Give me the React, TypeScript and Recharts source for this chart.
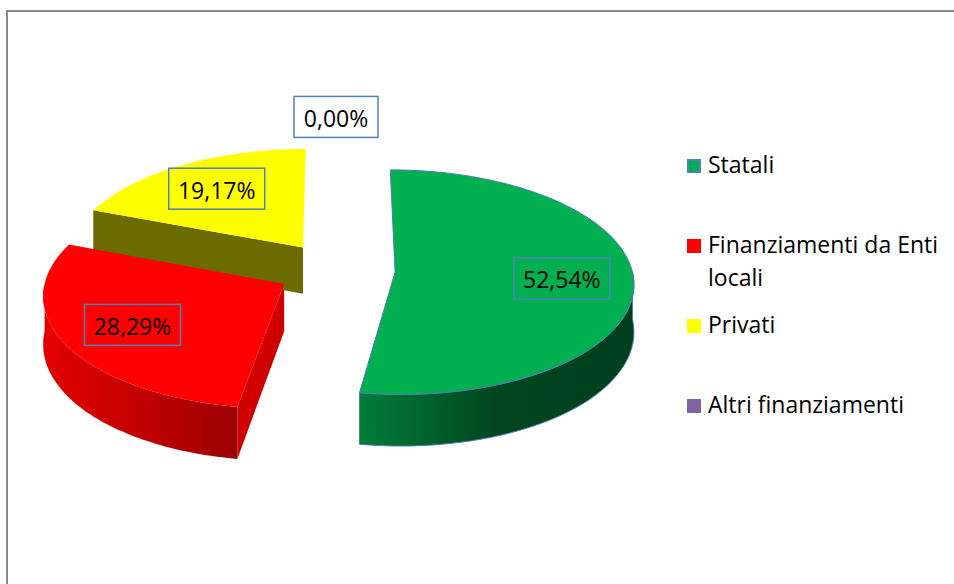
import { PieChart, Pie, Legend } from 'recharts';

const NAMES = ['Statali', 'Finanziamenti da Enti locali', 'Privati', 'Altri finanziamenti'];
const VALUES = [52.54, 28.29, 19.17, 0];
const COLORS = ['#00B050', '#FF0000', '#FFFF00', '#8064A2'];

// shading for the 3D sides: [wall left, wall middle, wall right, cut face]
const SIDES = [
  ['#007d38', '#00461f', '#003f1c', '#00451f'],
  ['#e40000', '#c20000', '#9a0000', '#d00000'],
  ['#8a8a00', '#6b6b00', '#5c5c00', '#6b6b00'],
  ['#5f4b7a', '#4f3e66', '#42345a', '#4f3e66'],
];
const OUTLINE = ['#4A7EBB', 'none', 'none', 'none'];

const data = NAMES.map((name, i) => ({ name, value: VALUES[i], fill: COLORS[i] }));

// fake perspective: tilt, vanishing depth, thickness, explode
const RAD = Math.PI / 180;
const TILT = 0.4826;
const VANISH = 2612;
const SX = 1.03;
const THICK = 47;
const EXPLODE = 0.25;
const FONT = '"Open Sans", sans-serif';
const LEGEND_TOPS = [148, 228, 308, 388];

type Pt = [number, number];

const project = (cx: number, cy: number, X: number, Y: number, z: number): Pt => {
  const s = 1 / (1 - Y / VANISH);
  return [cx + SX * X * s, cy + (TILT * Y + z) * s];
};

const toPath = (pts: Pt[]) =>
  'M' + pts.map((p) => `${p[0].toFixed(1)},${p[1].toFixed(1)}`).join('L') + 'Z';

// eslint-disable-next-line @typescript-eslint/no-explicit-any
const geom = (p: any) => {
  const { cx, cy, outerRadius: r, startAngle, endAngle } = p;
  const mid = ((startAngle + endAngle) / 2) * RAD;
  const ox = EXPLODE * r * Math.cos(mid);
  const oy = -EXPLODE * r * Math.sin(mid);
  const rim = (deg: number, z: number) =>
    project(cx, cy, ox + r * Math.cos(deg * RAD), oy - r * Math.sin(deg * RAD), z);
  const arc = (from: number, to: number, z: number) => {
    const n = Math.max(2, Math.ceil(Math.abs(from - to)));
    const pts: Pt[] = [];
    for (let i = 0; i <= n; i++) pts.push(rim(from + ((to - from) * i) / n, z));
    return pts;
  };
  const center = (z: number) => project(cx, cy, ox, oy, z);
  return { rim, arc, center };
};

// eslint-disable-next-line @typescript-eslint/no-explicit-any
const SideShape = (p: any) => {
  const { startAngle, endAngle } = p;
  const idx = Math.max(0, NAMES.indexOf(p.name ?? p.payload?.name));
  if (Math.abs(startAngle - endAngle) < 0.01) return <g />;
  const { rim, arc, center } = geom(p);
  const [c1, c2, c3, face] = SIDES[idx];
  const parts = [];
  const a1 = Math.min(startAngle, 0);
  const a2 = Math.max(endAngle, -180);
  if (a1 > a2) {
    const pts = [...arc(a1, a2, 0), ...arc(a2, a1, THICK)];
    parts.push(
      <path key="wall" d={toPath(pts)} fill={`url(#wall-${idx})`} stroke={OUTLINE[idx]} strokeWidth={1} />
    );
  }
  if (Math.cos(startAngle * RAD) < -0.01) {
    const pts = [center(0), rim(startAngle, 0), rim(startAngle, THICK), center(THICK)];
    parts.push(<path key="fs" d={toPath(pts)} fill={face} stroke={OUTLINE[idx]} strokeWidth={1} />);
  }
  if (Math.cos(endAngle * RAD) > 0.01) {
    const pts = [center(0), rim(endAngle, 0), rim(endAngle, THICK), center(THICK)];
    parts.push(<path key="fe" d={toPath(pts)} fill={face} stroke={OUTLINE[idx]} strokeWidth={1} />);
  }
  return (
    <g>
      <defs>
        <linearGradient id={`wall-${idx}`} x1="0" y1="0" x2="1" y2="0">
          <stop offset="0%" stopColor={c1} />
          <stop offset="50%" stopColor={c2} />
          <stop offset="100%" stopColor={c3} />
        </linearGradient>
      </defs>
      {parts}
    </g>
  );
};

// eslint-disable-next-line @typescript-eslint/no-explicit-any
const TopShape = (p: any) => {
  const { startAngle, endAngle } = p;
  const idx = Math.max(0, NAMES.indexOf(p.name ?? p.payload?.name));
  if (Math.abs(startAngle - endAngle) < 0.01) return <g />;
  const { arc, center } = geom(p);
  const pts = [center(0), ...arc(startAngle, endAngle, 0)];
  return <path d={toPath(pts)} fill={COLORS[idx]} stroke={OUTLINE[idx]} strokeWidth={1} />;
};

// eslint-disable-next-line @typescript-eslint/no-explicit-any
const renderLabel = (p: any) => {
  const { cx, cy, outerRadius: r, startAngle, endAngle, value, percent } = p;
  const mid = ((startAngle + endAngle) / 2) * RAD;
  const f = EXPLODE + (value > 0 ? 0.7 : 1.32);
  const [x, y] = project(cx, cy, f * r * Math.cos(mid), -f * r * Math.sin(mid), 0);
  const text = `${(percent * 100).toFixed(2).replace('.', ',')}%`;
  const w = value > 0 ? 96 : 84;
  return (
    <g key={`lbl-${p.index}`}>
      <rect x={x - w / 2} y={y - 20.5} width={w} height={41} fill="none" stroke="#4F81BD" strokeWidth={1.5} />
      <text x={x} y={y + 1} textAnchor="middle" dominantBaseline="central" fontSize={23} fontFamily={FONT} fill="#000">
        {text}
      </text>
    </g>
  );
};

const renderLegend = () => (
  <div style={{ position: 'relative', width: 262, height: 430, fontFamily: FONT, fontSize: 23, lineHeight: '33px', color: '#000' }}>
    {NAMES.map((n, i) => (
      <div key={n} style={{ position: 'absolute', left: 0, top: LEGEND_TOPS[i], display: 'flex', alignItems: 'flex-start' }}>
        <span
          style={{
            width: 14, height: 14, marginTop: 11, flex: 'none', boxSizing: 'border-box',
            background: COLORS[i], border: i === 0 ? '2px solid #4F81BD' : 'none',
          }}
        />
        <span style={{ marginLeft: 7, width: 245 }}>{n}</span>
      </div>
    ))}
  </div>
);

export default function App() {
  return (
    <div style={{ position: 'fixed', left: 0, top: 0, width: 954, height: 584, background: '#fff', overflow: 'hidden' }}>
      <div
        style={{
          position: 'absolute', left: 6, top: 10, width: 980, height: 620,
          borderLeft: '2px solid #888', borderTop: '2px solid #888', pointerEvents: 'none',
        }}
      />
      <div style={{ position: 'absolute', left: 0, top: 0 }}>
        <PieChart width={954} height={584} margin={{ top: 0, right: 0, bottom: 0, left: 0 }}>
          <Pie
            data={data}
            dataKey="value"
            nameKey="name"
            cx={336}
            cy={270}
            outerRadius={230}
            startAngle={90}
            endAngle={-270}
            shape={SideShape}
            label={false}
            labelLine={false}
            legendType="none"
            isAnimationActive={false}
          />
          <Pie
            data={data}
            dataKey="value"
            nameKey="name"
            cx={336}
            cy={270}
            outerRadius={230}
            startAngle={90}
            endAngle={-270}
            shape={TopShape}
            label={renderLabel}
            labelLine={false}
            isAnimationActive={false}
          />
          <Legend
            layout="vertical"
            align="right"
            verticalAlign="middle"
            content={renderLegend}
            wrapperStyle={{ left: 687, top: 0, width: 262, height: 430 }}
          />
        </PieChart>
      </div>
    </div>
  );
}
